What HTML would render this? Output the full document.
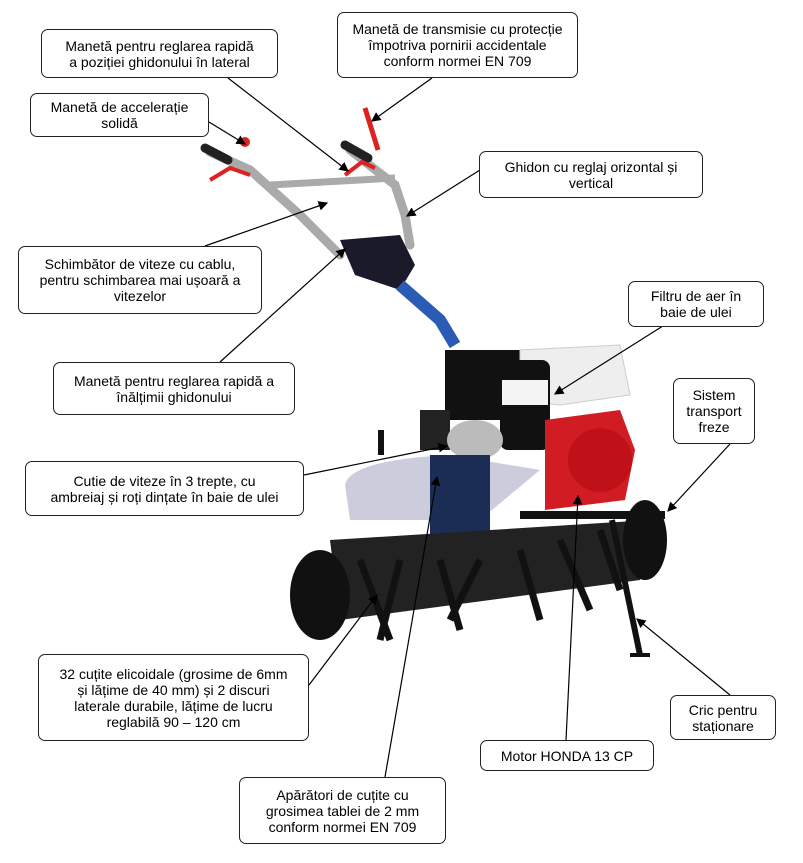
<!DOCTYPE html>
<html><head><meta charset="utf-8"><style>
body{margin:0;background:#fff;width:803px;height:863px;overflow:hidden;position:relative;font-family:"Liberation Sans",Arial,sans-serif}
.b{position:absolute;border:1px solid #222;border-radius:7px;background:#fff;font-size:14px;line-height:16px;text-align:center;display:flex;align-items:center;justify-content:center;box-sizing:border-box;padding:0;color:#000;white-space:nowrap}
svg{position:absolute;left:0;top:0}
</style></head><body>
<svg width="803" height="863" viewBox="0 0 803 863">
<defs><marker id="a" markerWidth="8" markerHeight="8" refX="7" refY="4" orient="auto"><path d="M0,0 L8,4 L0,8 z" fill="#000"/></marker></defs>
<g>
<path d="M210,152 L250,170 L300,215 L340,255" stroke="#aaa" stroke-width="9" fill="none" stroke-linecap="round"/>
<path d="M350,150 L395,185 L405,215 L410,245" stroke="#aaa" stroke-width="9" fill="none" stroke-linecap="round"/>
<path d="M270,185 L395,178" stroke="#aaa" stroke-width="7"/>
<path d="M205,148 L228,160" stroke="#222" stroke-width="9" stroke-linecap="round"/>
<path d="M345,145 L368,158" stroke="#222" stroke-width="9" stroke-linecap="round"/>
<path d="M365,108 L378,150" stroke="#d22" stroke-width="5"/>
<path d="M210,180 L230,168 L250,175" stroke="#d22" stroke-width="4" fill="none"/>
<path d="M345,175 L362,162 L375,168" stroke="#d22" stroke-width="4" fill="none"/>
<circle cx="245" cy="142" r="5" fill="#d22"/>
<path d="M340,240 L400,235 L415,265 L400,290 L355,275 Z" fill="#1a1a2a"/>
<path d="M400,285 L440,320 L455,345" stroke="#2a5bb5" stroke-width="12" fill="none"/>
<rect x="445" y="350" width="75" height="70" fill="#111"/>
<path d="M520,350 L620,345 L630,395 L560,405 L520,400 Z" fill="#eee" stroke="#ccc"/>
<rect x="500" y="360" width="50" height="90" rx="8" fill="#111"/>
<rect x="502" y="380" width="46" height="25" fill="#f4f4f4"/>
<path d="M545,420 L620,410 L635,450 L625,500 L545,510 Z" fill="#d21c24"/>
<circle cx="600" cy="460" r="32" fill="#c01018"/>
<rect x="420" y="410" width="30" height="40" fill="#222"/>
<ellipse cx="475" cy="440" rx="28" ry="20" fill="#bbb"/>
<path d="M345,485 Q350,460 450,455 L540,470 L480,520 L350,520 Z" fill="#ccd"/>
<rect x="430" y="455" width="60" height="135" fill="#1c2d55"/>
<path d="M330,540 L650,520 L640,580 L340,620 Z" fill="#222"/>
<path d="M330,560 L300,620 M360,560 L390,640 M400,560 L380,640 M440,560 L460,630 M480,560 L450,620 M520,550 L540,620 M560,540 L590,610 M600,530 L620,590" stroke="#111" stroke-width="7"/>
<ellipse cx="320" cy="595" rx="30" ry="45" fill="#111"/>
<ellipse cx="645" cy="540" rx="22" ry="40" fill="#111"/>
<path d="M520,515 L665,515" stroke="#111" stroke-width="8"/>
<path d="M612,520 L640,655" stroke="#111" stroke-width="6"/>
<path d="M630,655 L650,655" stroke="#111" stroke-width="4"/>
<rect x="378" y="430" width="6" height="25" fill="#111"/>
</g>
<g stroke="#000" stroke-width="1.2" fill="none" marker-end="url(#a)">
<line x1="432" y1="78" x2="372" y2="121"/>
<line x1="228" y1="78" x2="348" y2="171"/>
<line x1="209" y1="122" x2="245" y2="144"/>
<line x1="480" y1="170" x2="407" y2="216"/>
<line x1="205" y1="246" x2="327" y2="203"/>
<line x1="220" y1="362" x2="345" y2="249"/>
<line x1="693" y1="307" x2="555" y2="394"/>
<line x1="304" y1="475" x2="447" y2="446"/>
<line x1="730" y1="444" x2="668" y2="511"/>
<line x1="566" y1="740" x2="578" y2="496"/>
<line x1="385" y1="777" x2="437" y2="477"/>
<line x1="309" y1="685" x2="377" y2="595"/>
<line x1="730" y1="695" x2="637" y2="619"/>
</g>
</svg>
<div class="b" style="left:337px;top:12px;width:241px;height:66px">Manetă de transmisie cu protecție<br>împotriva pornirii accidentale<br>conform normei EN 709</div>
<div class="b" style="left:41px;top:29px;width:237px;height:49px">Manetă pentru reglarea rapidă<br>a poziției ghidonului în lateral</div>
<div class="b" style="left:30px;top:93px;width:179px;height:44px">Manetă de accelerație<br>solidă</div>
<div class="b" style="left:479px;top:151px;width:224px;height:47px">Ghidon cu reglaj orizontal și<br>vertical</div>
<div class="b" style="left:18px;top:246px;width:244px;height:68px">Schimbător de viteze cu cablu,<br>pentru schimbarea mai ușoară a<br>vitezelor</div>
<div class="b" style="left:628px;top:281px;width:136px;height:46px">Filtru de aer în<br>baie de ulei</div>
<div class="b" style="left:53px;top:362px;width:242px;height:53px">Manetă pentru reglarea rapidă a<br>înălțimii ghidonului</div>
<div class="b" style="left:673px;top:378px;width:82px;height:66px">Sistem<br>transport<br>freze</div>
<div class="b" style="left:25px;top:461px;width:279px;height:55px">Cutie de viteze în 3 trepte, cu<br>ambreiaj și roți dințate în baie de ulei</div>
<div class="b" style="left:38px;top:654px;width:271px;height:87px">32 cuțite elicoidale (grosime de 6mm<br>și lățime de 40 mm) și 2 discuri<br>laterale durabile, lățime de lucru<br>reglabilă 90 – 120 cm</div>
<div class="b" style="left:670px;top:695px;width:106px;height:45px">Cric pentru<br>staționare</div>
<div class="b" style="left:480px;top:740px;width:174px;height:31px">Motor HONDA 13 CP</div>
<div class="b" style="left:239px;top:777px;width:207px;height:67px">Apărători de cuțite cu<br>grosimea tablei de 2 mm<br>conform normei EN 709</div>
</body></html>
